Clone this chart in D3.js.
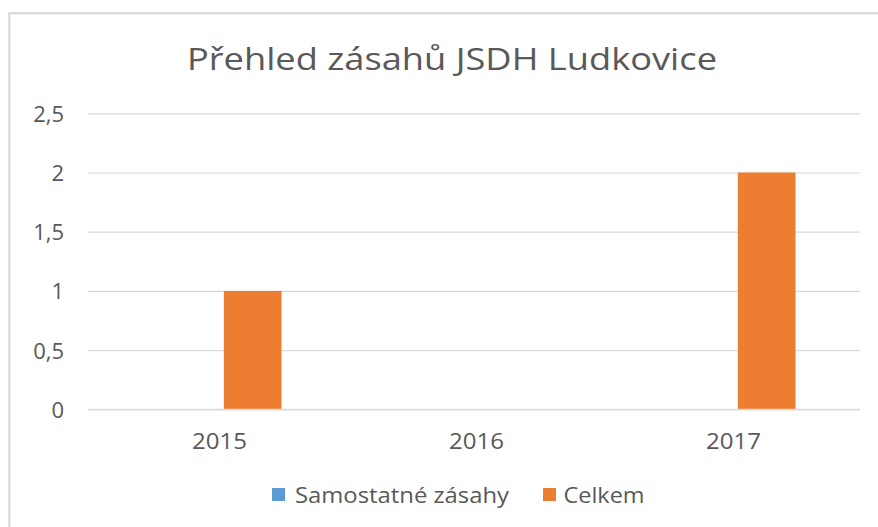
<!DOCTYPE html>
<html>
<head>
<meta charset="utf-8">
<script src="https://cdn.jsdelivr.net/npm/d3@7"></script>
<style>
  html, body { margin: 0; padding: 0; background: #fff; }
  svg { display: block; }
  text { font-family: "Open Sans", "Noto Sans", sans-serif; fill: #595959; }
</style>
</head>
<body>
<div id="chart"></div>
<script>
'use strict'

// data
const chartTitle = 'Přehled zásahů JSDH Ludkovice'
const years = ['2015', '2016', '2017']
const seriesNames = ['Samostatné zásahy', 'Celkem']
const samostatne = [0, 0, 0]
const celkem = [1, 0, 2]
const yTicks = [0, 0.5, 1, 1.5, 2, 2.5]
const colors = ['#5B9BD5', '#ED7D31']

const W = 878, H = 527

const svg = d3.select('#chart')
    .append('svg')
    .attr('width', W)
    .attr('height', H)

// chart frame (cropped at right & bottom like the screenshot)
svg.append('rect')
    .attr('x', 9.3).attr('y', 13.2)
    .attr('width', 900).attr('height', 560)
    .attr('fill', 'none')
    .attr('stroke', '#d9d9d9')
    .attr('stroke-width', 2.2)

// title
svg.append('text')
    .attr('x', 187).attr('y', 70)
    .attr('font-size', 31)
    .attr('textLength', 530)
    .attr('lengthAdjust', 'spacingAndGlyphs')
    .text(chartTitle)

// scales
const x0 = d3.scaleBand().domain(years).range([89, 860]).padding(0)
const x1 = d3.scaleBand().domain(seriesNames).range([-64, 64]).paddingInner(0.18)
const y = d3.scaleLinear().domain([0, 2.5]).range([409.3, 113.3])

// gridlines + y labels
const grid = svg.append('g')
    .attr('transform', 'translate(88,0)')
    .call(d3.axisLeft(y).tickValues(yTicks).tickSize(-772).tickFormat(d => String(d).replace('.', ',')))
grid.select('.domain').remove()
grid.selectAll('.tick line').attr('stroke', '#d9d9d9').attr('stroke-width', 1.2)
grid.selectAll('.tick text')
    .attr('x', -24)
    .attr('dy', '0.36em')
    .attr('fill', '#595959')
    .style('font-size', '22px')
    .style('font-family', '"Open Sans", sans-serif')

// bars
const rows = years.map((yr, i) => ({ year: yr, vals: [samostatne[i], celkem[i]] }))
const groups = svg.selectAll('.grp')
    .data(rows)
    .join('g')
    .attr('class', 'grp')
    .attr('transform', d => `translate(${x0(d.year) + x0.bandwidth() / 2},0)`)

groups.selectAll('rect')
    .data(d => d.vals.map((v, k) => ({ name: seriesNames[k], v: v, k: k })))
    .join('rect')
    .attr('x', d => x1(d.name))
    .attr('width', x1.bandwidth())
    .attr('y', d => y(d.v))
    .attr('height', d => y(0) - y(d.v))
    .attr('fill', d => colors[d.k])

// x axis line over bars
svg.append('line')
    .attr('x1', 88).attr('x2', 860)
    .attr('y1', y(0)).attr('y2', y(0))
    .attr('stroke', '#d9d9d9').attr('stroke-width', 1.2)

// category labels
svg.selectAll('.xlab')
    .data(years)
    .join('text')
    .attr('class', 'xlab')
    .attr('x', d => x0(d) + x0.bandwidth() / 2 + 2)
    .attr('y', 448.5)
    .attr('text-anchor', 'middle')
    .style('font-size', '22px')
    .attr('textLength', 55)
    .attr('lengthAdjust', 'spacingAndGlyphs')
    .text(d => d)

// legend
const legendPos = [{ sx: 272, tx: 295, tw: 214 }, { sx: 543, tx: 563.5, tw: 81 }]
const leg = svg.selectAll('.leg')
    .data(seriesNames)
    .join('g')
    .attr('class', 'leg')

leg.append('rect')
    .attr('x', (d, i) => legendPos[i].sx)
    .attr('y', 488)
    .attr('width', 13).attr('height', 13)
    .attr('fill', (d, i) => colors[i])

leg.append('text')
    .attr('x', (d, i) => legendPos[i].tx)
    .attr('y', 503)
    .style('font-size', '22px')
    .attr('textLength', (d, i) => legendPos[i].tw)
    .attr('lengthAdjust', 'spacingAndGlyphs')
    .text(d => d)
</script>
</body>
</html>
